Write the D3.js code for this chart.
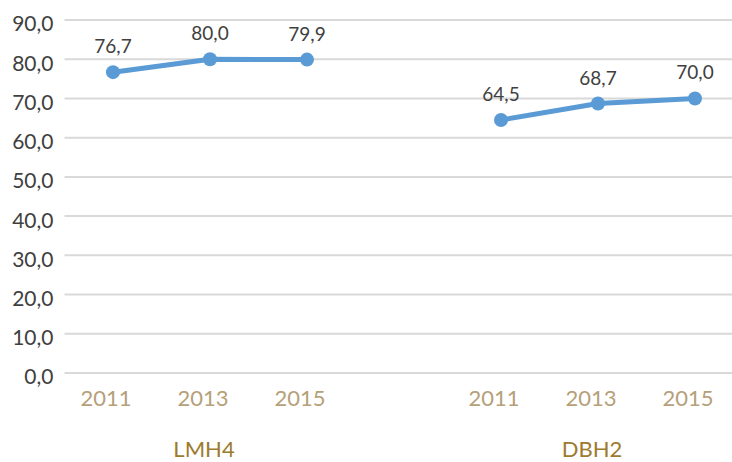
<!DOCTYPE html>
<html>
<head>
<meta charset="utf-8">
<script src="https://cdn.jsdelivr.net/npm/d3@7"></script>
<style>
  body { margin: 0; background: #fff; }
  svg { display: block; }
</style>
</head>
<body>
<svg width="732" height="462"></svg>
<script>
// категории по оси OX (пустой слот между группами)
const slots = ["LMH4-2011", "LMH4-2013", "LMH4-2015", "gap", "DBH2-2011", "DBH2-2013", "DBH2-2015"];
const years = ["2011", "2013", "2015", "", "2011", "2013", "2015"];
const groups = ["LMH4", "DBH2"];
const lmh4Values = [76.7, 80.0, 79.9];
const dbh2Values = [64.5, 68.7, 70.0];
const yTicks = [0, 10, 20, 30, 40, 50, 60, 70, 80, 90];

const fmt = v => d3.format(".1f")(v).replace(".", ",");

const svg = d3.select("svg");
const area = { left: 64.5, right: 743.5, top: 20, bottom: 373 };

const scX = d3.scaleBand().domain(slots).range([area.left, area.right]);
const scY = d3.scaleLinear().domain([0, 90]).range([area.bottom, area.top]);

// линии сетки
svg.append("g")
  .selectAll("line")
  .data(yTicks)
  .enter()
  .append("line")
  .attr("x1", area.left)
  .attr("x2", area.right)
  .attr("y1", d => scY(d))
  .attr("y2", d => scY(d))
  .style("stroke", "#d9d9d9")
  .style("stroke-width", 2);

// ось OY
const axisY = svg.append("g")
  .attr("transform", `translate(${area.left}, 0)`)
  .call(d3.axisLeft(scY).tickValues(yTicks).tickFormat(fmt).tickSize(0).tickPadding(11));
axisY.select(".domain").remove();
axisY.selectAll("text")
  .attr("dy", "0.52em")
  .style("font-family", "Lato, sans-serif")
  .style("font-size", "21px")
  .style("fill", "#404040");

// ось OX
const axisX = svg.append("g")
  .attr("transform", `translate(0, ${area.bottom})`)
  .call(d3.axisBottom(scX).tickFormat((d, i) => years[i]).tickSize(0).tickPadding(17));
axisX.select(".domain").remove();
axisX.selectAll("text")
  .attr("dx", -7)
  .style("font-family", "Lato, sans-serif")
  .style("font-size", "22px")
  .style("fill", "#b5a07a");

// подписи групп
const groupCenters = [scX("LMH4-2013"), scX("DBH2-2013")];
svg.selectAll(".grp")
  .data(groups)
  .enter()
  .append("text")
  .attr("x", (d, i) => groupCenters[i] + scX.bandwidth() / 2 - 6)
  .attr("y", 457)
  .attr("text-anchor", "middle")
  .style("font-family", "Lato, sans-serif")
  .style("font-size", "22px")
  .style("fill", "#9c7a2e")
  .text(d => d);

// серии
const series = [
  lmh4Values.map((v, i) => ({ key: slots[i], value: v })),
  dbh2Values.map((v, i) => ({ key: slots[i + 4], value: v }))
];
const cx = d => scX(d.key) + scX.bandwidth() / 2;
const line = d3.line().x(cx).y(d => scY(d.value));

series.forEach(s => {
  svg.append("path")
    .datum(s)
    .attr("d", line)
    .style("fill", "none")
    .style("stroke", "#5b9bd5")
    .style("stroke-width", 5)
    .style("stroke-linejoin", "round");

  svg.append("g").selectAll("circle")
    .data(s)
    .enter()
    .append("circle")
    .attr("cx", cx)
    .attr("cy", d => scY(d.value))
    .attr("r", 7)
    .style("fill", "#5b9bd5");

  svg.append("g").selectAll("text")
    .data(s)
    .enter()
    .append("text")
    .attr("x", cx)
    .attr("y", d => scY(d.value) - 19)
    .attr("text-anchor", "middle")
    .style("font-family", "Lato, sans-serif")
    .style("font-size", "19px")
    .style("fill", "#404040")
    .text(d => fmt(d.value));
});
</script>
</body>
</html>
